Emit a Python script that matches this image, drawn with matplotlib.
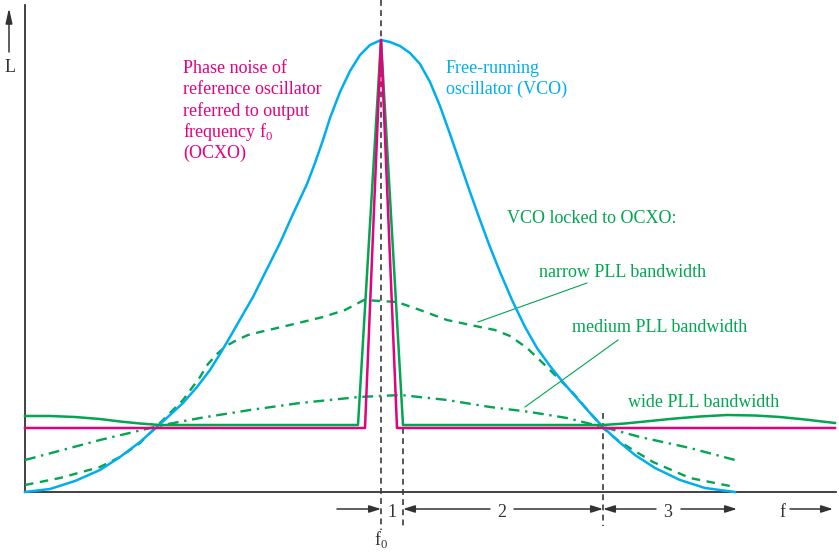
import matplotlib
matplotlib.use('Agg')
import matplotlib.pyplot as plt

plt.rcParams['font.family'] = ['Liberation Serif', 'DejaVu Serif']
plt.rcParams['mathtext.fontset'] = 'custom'
plt.rcParams['mathtext.rm'] = 'Liberation Serif'

MAGENTA = '#e5007d'
CYAN = '#00aeef'
GREEN = '#00a651'
DARK = '#333333'

# free-running VCO (picture coordinates, y grows downward)
vco_x = [25, 50, 75, 100, 120, 140, 158, 170, 183, 197, 210, 220, 230, 242, 253, 266,
         280, 293, 307, 315, 323, 330, 340, 350, 360, 370, 381,
         390, 400, 410, 420, 430, 440, 450, 460, 470, 480, 490, 500, 512, 525, 537,
         550, 562, 575, 590, 603, 618, 635, 655, 680, 705, 735]
vco_y = [492, 489, 481, 470, 457, 442, 426, 415, 403, 387, 370, 354, 337, 316, 297, 271,
         243, 214, 184, 163, 140, 118, 92, 71, 55, 45, 40,
         42, 46, 53, 64, 82, 106, 134, 163, 192, 220, 247, 272, 300, 327, 348,
         366, 381, 396, 413, 427, 441, 455, 468, 480, 488, 492]

# reference oscillator (OCXO)
ocxo_x = [25, 365, 381, 397, 835]
ocxo_y = [428, 428, 40, 428, 428]

# VCO locked, wide PLL bandwidth
wide_x = [25, 50, 75, 100, 120, 140, 160, 358, 381, 403, 603, 625, 650, 675, 700,
          727, 755, 780, 805, 835]
wide_y = [416, 416, 417, 419, 421.5, 423.5, 425, 425, 40, 425, 425, 423.5, 421, 418.5, 416.5,
          415, 415.5, 417, 419.5, 423]

# VCO locked, narrow PLL bandwidth
narrow_x = [25, 60, 100, 120, 140, 163, 183, 200, 208, 217, 226, 237, 248, 260, 290, 323, 345, 364,
            397, 420, 447, 480, 495, 510, 527, 547, 573, 603, 620, 653, 690, 735]
narrow_y = [485, 478, 467, 457, 443, 420, 400, 377, 364, 354, 346, 340, 335, 332, 325, 317, 310, 300,
            302, 310, 320, 327, 330, 336, 348, 367, 393, 428, 442, 462, 478, 487]

# VCO locked, medium PLL bandwidth
medium_x = [25, 100, 163, 200, 250, 300, 359, 401, 447, 490, 530, 567, 603, 640, 690, 735]
medium_y = [460, 440, 425, 418, 410, 403, 397, 395, 400, 407, 412, 418, 427, 437, 448, 460]

phase_lines = ['Phase noise of', 'reference oscillator', 'referred to output',
               r'frequency f$_\mathregular{0}$', '(OCXO)']
vco_lines = ['Free-running', 'oscillator (VCO)']
pll_labels = ['narrow PLL bandwidth', 'medium PLL bandwidth', 'wide PLL bandwidth']
region_labels = ['1', '2', '3']

fig = plt.figure(figsize=(8.39, 5.56), dpi=100)
ax = fig.add_axes([0, 0, 1, 1])
ax.set_xlim(0, 839)
ax.set_ylim(556, 0)
ax.axis('off')

# axes
ax.plot([25, 25], [5, 492], color=DARK, lw=1.3)
ax.plot([25, 836], [492, 492], color=DARK, lw=1.3)
ax.annotate('', xy=(9, 8), xytext=(9, 52),
            arrowprops=dict(arrowstyle='-|>,head_length=0.9,head_width=0.2', color=DARK, lw=1.1,
                            shrinkA=0, shrinkB=0))
ax.text(10, 72, 'L', fontsize=13, ha='center', va='baseline', color=DARK)

# vertical dashed markers
vd = dict(color='#3a3a3a', lw=1.2, ls=(0, (3.5, 2.6)))
ax.plot([381, 381], [0, 530], **vd)
ax.plot([403, 403], [428, 526], **vd)
ax.plot([603, 603], [413, 526], **vd)

# curves
ax.plot(narrow_x, narrow_y, color=GREEN, lw=1.7, ls=(0, (3.6, 2.8)), zorder=2)
ax.plot(medium_x, medium_y, color=GREEN, lw=1.7, ls=(0, (4.6, 2.4, 1, 2.4)), zorder=2)
ax.plot(vco_x, vco_y, color=CYAN, lw=1.8, zorder=3)
ax.plot(wide_x, wide_y, color=GREEN, lw=1.8, zorder=4)
ax.plot(ocxo_x, ocxo_y, color=MAGENTA, lw=1.8, zorder=5)

# leader lines
ax.plot([478, 587], [322, 283], color=GREEN, lw=0.8)
ax.plot([525, 618], [407, 340], color=GREEN, lw=0.8)

# texts
fs = 13
for i, s in enumerate(phase_lines):
    ax.text(183, 73 + i * 21.3, s, fontsize=fs, color=MAGENTA, va='baseline')
for i, s in enumerate(vco_lines):
    ax.text(446, 73 + i * 20.5, s, fontsize=fs, color=CYAN, va='baseline')
ax.text(507, 223, 'VCO locked to OCXO:', fontsize=fs, color=GREEN, va='baseline')
ax.text(539, 277, pll_labels[0], fontsize=fs, color=GREEN, va='baseline')
ax.text(572, 332, pll_labels[1], fontsize=fs, color=GREEN, va='baseline')
ax.text(628, 407, pll_labels[2], fontsize=fs, color=GREEN, va='baseline')

# frequency regions
arr = dict(arrowstyle='-|>,head_length=0.7,head_width=0.22', color=DARK, lw=1.1,
           shrinkA=0, shrinkB=0)
ay = 509
ax.annotate('', xy=(381, ay), xytext=(337, ay), arrowprops=arr)
ax.annotate('', xy=(403, ay), xytext=(490, ay), arrowprops=arr)
ax.annotate('', xy=(603, ay), xytext=(514, ay), arrowprops=arr)
ax.annotate('', xy=(603, ay), xytext=(656, ay), arrowprops=arr)
ax.annotate('', xy=(737, ay), xytext=(681, ay), arrowprops=arr)
ax.annotate('', xy=(833, ay), xytext=(790, ay), arrowprops=arr)
for xpos, s in zip([392, 502, 668], region_labels):
    ax.text(xpos, 517, s, fontsize=fs, color=DARK, ha='center', va='baseline')
ax.text(782, 517, 'f', fontsize=fs, color=DARK, ha='center', va='baseline')
ax.text(381, 545, r'f$_\mathregular{0}$', fontsize=fs, color=DARK, ha='center', va='baseline')

fig.savefig('out.png', dpi=100, facecolor='white')
